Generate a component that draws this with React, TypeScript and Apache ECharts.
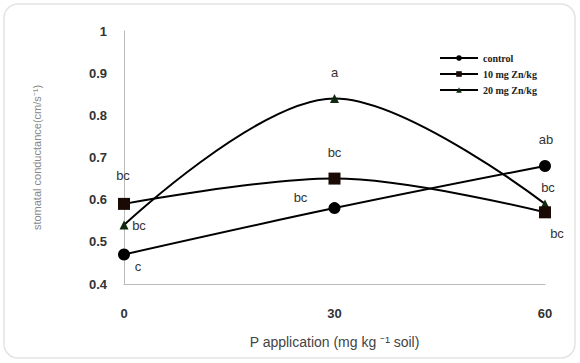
import React, { useEffect, useRef } from "react";
import * as echarts from "echarts";

const xValues = [0, 30, 60];
const seriesNames = ["control", "10 mg Zn/kg", "20 mg Zn/kg"];
const controlValues = [0.47, 0.58, 0.68];
const zn10Values = [0.59, 0.65, 0.57];
const zn20Values = [0.54, 0.84, 0.59];
const controlLetters = ["c", "bc", "ab"];
const zn10Letters = ["bc", "bc", "bc"];
const zn20Letters = ["bc", "a", "bc"];
const yTicks = [0.4, 0.5, 0.6, 0.7, 0.8, 0.9, 1];

export default function App() {
  const ref = useRef<HTMLDivElement>(null);
  useEffect(() => {
    if (!ref.current) return;
    const chart = echarts.init(ref.current, null, { renderer: "svg" });
    const labelOffsets = [
      [[14, 12], [-34, -11], [1, -26]],
      [[-1, -28], [0, -26], [12, 21]],
      [[15, 1], [0, -26], [3, -16]],
    ];
    const values = [controlValues, zn10Values, zn20Values];
    const letters = [controlLetters, zn10Letters, zn20Letters];
    const symbols = ["circle", "rect", "triangle"];
    const symbolSizes = [12, 12, 9];
    const colors = ["#000000", "#1a0a05", "#0f2a0f"];
    const series = values.map((vals, si) => ({
      name: seriesNames[si],
      type: "line",
      smooth: 0.35,
      symbol: symbols[si],
      symbolSize: symbolSizes[si],
      showAllSymbol: true,
      lineStyle: { color: "#000", width: 2 },
      itemStyle: { color: colors[si] },
      data: vals.map((v, i) => ({
        value: [xValues[i], v],
        label: {
          show: true,
          formatter: letters[si][i],
          position: "inside",
          offset: labelOffsets[si][i],
          align: "center",
          verticalAlign: "middle",
          fontSize: 13,
          fontFamily: "Arial, Liberation Sans, sans-serif",
          color: "#333",
        },
      })),
      z: 3 - si,
    }));
    chart.setOption({
      animation: false,
      backgroundColor: "#fff",
      graphic: [
        {
          type: "rect",
          shape: { x: 4, y: 4, width: 571, height: 354, r: 14 },
          style: { fill: "none", stroke: "#e4e4e4", lineWidth: 1.5 },
          silent: true,
        },
      ],
      grid: { left: 124, right: 35, top: 31, bottom: 79 },
      legend: {
        orient: "vertical",
        left: 434,
        top: 48,
        itemWidth: 38,
        itemHeight: 7,
        itemGap: 6,
        data: seriesNames,
        textStyle: {
          fontFamily: "Liberation Serif, Times New Roman, serif",
          fontSize: 10,
          fontWeight: "bold",
          color: "#222",
        },
      },
      xAxis: {
        type: "value",
        min: 0,
        max: 60,
        interval: 30,
        name: "P application (mg kg ⁻¹ soil)",
        nameLocation: "middle",
        nameGap: 51,
        nameTextStyle: { fontSize: 14, color: "#444", fontFamily: "Arial, Liberation Sans, sans-serif" },
        axisLine: { show: true, lineStyle: { color: "#bbb" } },
        axisTick: { show: false },
        splitLine: { show: false },
        axisLabel: {
          margin: 23,
          fontSize: 13,
          fontWeight: "bold",
          color: "#333",
          fontFamily: "Arial, Liberation Sans, sans-serif",
        },
      },
      yAxis: {
        type: "value",
        min: yTicks[0],
        max: yTicks[yTicks.length - 1],
        interval: 0.1,
        name: "stomatal conductance(cm/s⁻¹)",
        nameLocation: "middle",
        nameGap: 82,
        nameTextStyle: { fontSize: 11, color: "#888", fontFamily: "Arial, Liberation Sans, sans-serif" },
        axisLine: { show: true, lineStyle: { color: "#bbb" } },
        axisTick: { show: false },
        splitLine: { show: false },
        axisLabel: {
          margin: 17,
          fontSize: 13,
          fontWeight: "bold",
          color: "#333",
          fontFamily: "Arial, Liberation Sans, sans-serif",
          formatter: (v: number) => String(Math.round(v * 10) / 10),
        },
      },
      series,
    });
    return () => chart.dispose();
  }, []);
  return (
    <div
      ref={ref}
      style={{ position: "absolute", left: 0, top: 0, width: 580, height: 363 }}
    />
  );
}
